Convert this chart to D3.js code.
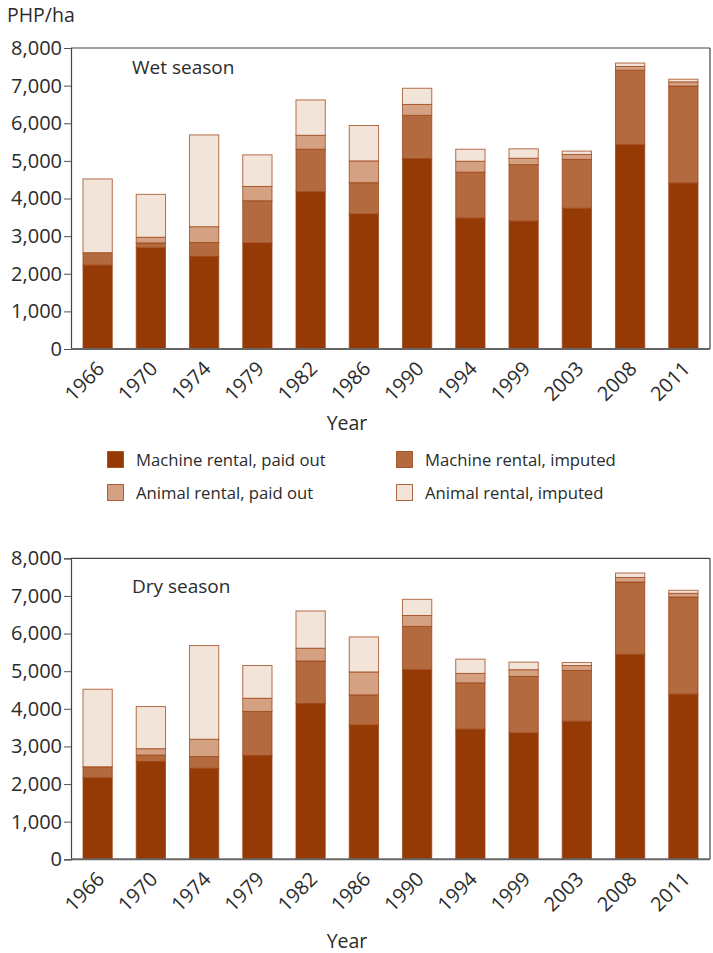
<!DOCTYPE html>
<html>
<head>
<meta charset="utf-8">
<script src="https://cdn.jsdelivr.net/npm/d3@7"></script>
<style>
  html, body { margin: 0; padding: 0; background: #ffffff; }
  svg { display: block; }
  text { font-family: "Open Sans", sans-serif; fill: #2b2b2b; }
</style>
</head>
<body>
<svg id="chart" width="713" height="953"></svg>
<script>
// ---------- DATA ----------
const years = ["1966","1970","1974","1979","1982","1986","1990","1994","1999","2003","2008","2011"];
const seriesKeys = ["Machine rental, paid out","Machine rental, imputed","Animal rental, paid out","Animal rental, imputed"];
const yTickValues = [0,1000,2000,3000,4000,5000,6000,7000,8000];

// Wet season (PHP/ha)
const wetMachinePaid   = [2230, 2690, 2460, 2820, 4180, 3590, 5060, 3480, 3400, 3740, 5430, 4410];
const wetMachineImput  = [ 330,  130,  370, 1120, 1130,  830, 1150, 1220, 1500, 1300, 1980, 2580];
const wetAnimalPaid    = [   0,  150,  420,  380,  370,  580,  290,  290,  170,  130,  100,  110];
const wetAnimalImput   = [1960, 1140, 2440,  840,  940,  940,  430,  320,  250,   90,   90,   70];

// Dry season (PHP/ha)
const dryMachinePaid   = [2170, 2600, 2420, 2760, 4140, 3570, 5040, 3460, 3360, 3670, 5450, 4390];
const dryMachineImput  = [ 290,  170,  310, 1170, 1130,  800, 1150, 1230, 1500, 1350, 1920, 2580];
const dryAnimalPaid    = [   0,  170,  460,  350,  340,  610,  290,  250,  180,  130,  120,  100];
const dryAnimalImput   = [2060, 1120, 2490,  870,  990,  930,  430,  380,  200,   80,  120,   80];

// ---------- STYLE ----------
const colors = ["#953a05", "#b46a3f", "#d4a183", "#f2e4d9"];
const strokeCol = "#9c4214";

const svg = d3.select("#chart");

function buildRows(a, b, c, d) {
  return years.map((y, i) => ({
    year: y,
    [seriesKeys[0]]: a[i],
    [seriesKeys[1]]: b[i],
    [seriesKeys[2]]: c[i],
    [seriesKeys[3]]: d[i]
  }));
}

const left = 71, right = 710;
const x = d3.scaleBand().domain(years).range([left, right]).paddingInner(0.45).paddingOuter(0.225);

function drawPanel(rows, top, bottom, title, titleY, yearLabelY) {
  const g = svg.append("g");
  const y = d3.scaleLinear().domain([0, 8000]).range([bottom, top]);

  const stacked = d3.stack().keys(seriesKeys)(rows);

  // bars
  const layers = g.selectAll("g.layer").data(stacked).join("g")
    .attr("class", "layer")
    .attr("fill", (d, i) => colors[i]);
  layers.selectAll("rect").data(d => d.filter(p => p[1] - p[0] > 0)).join("rect")
    .attr("x", d => x(d.data.year))
    .attr("width", x.bandwidth())
    .attr("y", d => y(d[1]))
    .attr("height", d => y(d[0]) - y(d[1]))
    .attr("stroke", strokeCol)
    .attr("stroke-opacity", 0.75)
    .attr("stroke-width", 1);

  // frame (top and right)
  g.append("line").attr("x1", left).attr("x2", right).attr("y1", top).attr("y2", top)
    .attr("stroke", "#444").attr("stroke-width", 1.2);
  g.append("line").attr("x1", right).attr("x2", right).attr("y1", top).attr("y2", bottom)
    .attr("stroke", "#444").attr("stroke-width", 1.2);

  // y axis
  const yAxis = g.append("g").attr("transform", `translate(${left},0)`)
    .call(d3.axisLeft(y).tickValues(yTickValues).tickFormat(d3.format(",")).tickSize(7).tickPadding(2));
  yAxis.select(".domain").attr("stroke", "#444").attr("stroke-width", 1.2);
  yAxis.selectAll(".tick line").attr("stroke", "#555");
  yAxis.selectAll(".tick text").style("font-size", "20px").attr("fill", "#2b2b2b");

  // x axis baseline
  g.append("line").attr("x1", left).attr("x2", right).attr("y1", bottom).attr("y2", bottom)
    .attr("stroke", "#666").attr("stroke-width", 2);

  // x labels
  g.selectAll("text.xl").data(years).join("text")
    .attr("class", "xl")
    .attr("text-anchor", "end")
    .attr("transform", d => `translate(${x(d) + x.bandwidth() / 2 + 8},${bottom + 21}) rotate(-45)`)
    .style("font-size", "20px")
    .text(d => d);

  // axis title
  g.append("text").attr("x", 347).attr("y", yearLabelY).attr("text-anchor", "middle")
    .style("font-size", "19.5px").text("Year");

  // panel title
  g.append("text").attr("x", 132).attr("y", titleY).style("font-size", "19px").text(title);
}

// unit label
svg.append("text").attr("x", 7).attr("y", 22).style("font-size", "19.5px").text("PHP/ha");

drawPanel(buildRows(wetMachinePaid, wetMachineImput, wetAnimalPaid, wetAnimalImput), 48, 349, "Wet season", 74, 430);
drawPanel(buildRows(dryMachinePaid, dryMachineImput, dryAnimalPaid, dryAnimalImput), 558.3, 859.3, "Dry season", 592.5, 948);

// legend
const legendItems = [
  { key: seriesKeys[0], col: 0, row: 0 },
  { key: seriesKeys[1], col: 1, row: 0 },
  { key: seriesKeys[2], col: 0, row: 1 },
  { key: seriesKeys[3], col: 1, row: 1 }
];
const legX = [107, 396], legY = [451, 484];
const leg = svg.append("g");
legendItems.forEach(it => {
  const i = seriesKeys.indexOf(it.key);
  leg.append("rect")
    .attr("x", legX[it.col] + 0.5).attr("y", legY[it.row] + 0.5)
    .attr("width", 16).attr("height", 16)
    .attr("fill", colors[i]).attr("stroke", strokeCol).attr("stroke-opacity", 0.8);
  leg.append("text")
    .attr("x", legX[it.col] + 29).attr("y", legY[it.row] + 15)
    .style("font-size", "16.7px").text(it.key);
});
</script>
</body>
</html>
